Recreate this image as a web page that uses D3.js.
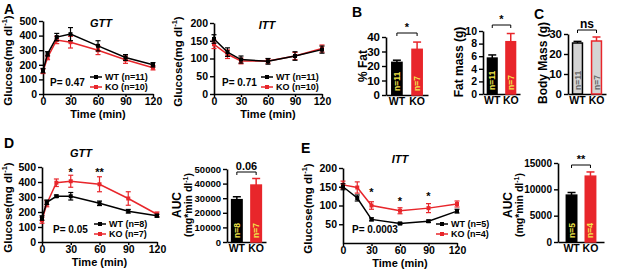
<!DOCTYPE html>
<html>
<head>
<meta charset="utf-8">
<script src="https://cdn.jsdelivr.net/npm/d3@7"></script>
<style>
  body { margin: 0; background: #fff; }
  svg { font-family: "Liberation Sans", Arial, sans-serif; font-weight: bold; }
</style>
</head>
<body>
<svg id="fig" width="617" height="271"></svg>
<script>
// data
const timeGTT = [0, 5, 15, 30, 60, 90, 120]
const timeITT = [0, 15, 30, 60, 90, 120]

const aGttWT = [160, 275, 390, 410, 330, 250, 200]
const aGttWTErr = [15, 15, 25, 45, 35, 20, 15]
const aGttKO = [155, 250, 370, 355, 300, 235, 180]
const aGttKOErr = [15, 15, 25, 40, 30, 25, 15]

const aIttWT = [155, 118, 97, 92, 107, 125]
const aIttWTErr = [12, 12, 10, 8, 12, 10]
const aIttKO = [140, 112, 93, 93, 107, 128]
const aIttKOErr = [12, 12, 8, 6, 10, 10]

const dGttWT = [160, 265, 305, 305, 258, 205, 175]
const dGttWTErr = [15, 15, 8, 25, 15, 12, 10]
const dGttKO = [145, 255, 395, 405, 385, 290, 185]
const dGttKOErr = [20, 20, 25, 40, 50, 45, 15]

const eIttWT = [150, 120, 63, 52, 58, 85]
const eIttWTErr = [8, 8, 4, 3, 3, 5]
const eIttKO = [155, 148, 100, 86, 93, 104]
const eIttKOErr = [10, 15, 10, 8, 12, 8]

const groups = ["WT", "KO"]
const fatPct = [22.5, 31.5], fatPctErr = [1.5, 5]
const fatMass = [5.7, 8.3], fatMassErr = [0.5, 1.3]
const bodyMass = [25.5, 26.5], bodyMassErr = [0.8, 2]
const dAuc = [29000, 39000], dAucErr = [2000, 4500]
const eAuc = [8900, 12500], eAucErr = [500, 800]

const RED = "#e8262b"
const YEL = "#f2e64a"
const svg = d3.select("#fig")
const fmt = d3.format("d")

function ylabel(x, y, size) {
    return svg.append("text")
        .attr("transform", "translate(" + x + "," + y + ") rotate(-90)")
        .attr("text-anchor", "middle")
        .attr("font-size", size || 12)
}

function glucoseLabel(x, y) {
    let t = ylabel(x, y, 11.5)
    t.append("tspan").text("Glucose(mg dl")
    t.append("tspan").attr("font-size", 7.5).attr("dy", -5).text("-1")
    t.append("tspan").attr("dy", 5).text(")")
}

function unitsLabel(x, y) {
    let t = ylabel(x, y, 10.5)
    t.append("tspan").text("(mg*min dl")
    t.append("tspan").attr("font-size", 7).attr("dy", -4).text("-1")
    t.append("tspan").attr("dy", 4).text(")")
}

function styleAxis(a) {
    a.selectAll(".domain").attr("stroke-width", 1.6)
    a.selectAll(".tick line").attr("stroke-width", 1.4)
    a.selectAll("text").attr("font-weight", "bold")
}

// line chart panel
function linePanel(o) {
    let x = d3.scaleLinear().domain([0, 120]).range([o.x0, o.x1])
    let y = d3.scaleLinear().domain(o.yDomain).range([o.yBot, o.yTop])

    let ya = svg.append("g").attr("transform", "translate(" + o.x0 + ",0)")
        .call(d3.axisLeft(y).tickValues(o.yTicks).tickFormat(fmt).tickSize(4).tickPadding(2).tickSizeOuter(0))
        .attr("font-size", 10.5)
    styleAxis(ya)
    let xa = svg.append("g").attr("transform", "translate(0," + o.yBot + ")")
        .call(d3.axisBottom(x).tickValues([0, 30, 60, 90, 120]).tickFormat(fmt).tickSize(3).tickPadding(1).tickSizeOuter(0))
        .attr("font-size", 10.5)
    styleAxis(xa)

    svg.append("text").attr("x", (o.x0 + o.x1) / 2).attr("y", o.yBot + 24)
        .attr("text-anchor", "middle").attr("font-size", 11).text("Time (min)")
    glucoseLabel(o.ylx, (o.yTop + o.yBot) / 2 + 3)
    svg.append("text").attr("x", o.titleX).attr("y", o.titleY)
        .attr("text-anchor", "middle").attr("font-size", 11).attr("font-style", "italic").text(o.title)

    let series = [
        { v: o.wt, e: o.wtErr, c: "#000" },
        { v: o.ko, e: o.koErr, c: RED }
    ]
    let line = d3.line().x((d, i) => x(o.t[i])).y(d => y(d))
    series.slice().reverse().forEach(s => {
        let g = svg.append("g")
        g.append("path").attr("d", line(s.v)).attr("fill", "none")
            .attr("stroke", s.c).attr("stroke-width", 1.5)
        s.v.forEach((d, i) => {
            let cx = x(o.t[i])
            g.append("line").attr("x1", cx).attr("x2", cx)
                .attr("y1", y(d - s.e[i])).attr("y2", y(d + s.e[i]))
                .attr("stroke", s.c).attr("stroke-width", 1.2)
            ;[d - s.e[i], d + s.e[i]].forEach(v => {
                g.append("line").attr("x1", cx - 2.5).attr("x2", cx + 2.5)
                    .attr("y1", y(v)).attr("y2", y(v)).attr("stroke", s.c).attr("stroke-width", 1.2)
            })
            g.append("rect").attr("x", cx - 2).attr("y", y(d) - 2)
                .attr("width", 4).attr("height", 4).attr("fill", s.c)
        })
    })

    // legend
    o.legend.forEach((lab, i) => {
        let ly = o.legY + i * 10
        let c = i == 0 ? "#000" : RED
        svg.append("line").attr("x1", o.legX).attr("x2", o.legX + 12)
            .attr("y1", ly - 3).attr("y2", ly - 3).attr("stroke", c).attr("stroke-width", 1.5)
        svg.append("rect").attr("x", o.legX + 4).attr("y", ly - 5).attr("width", 4).attr("height", 4).attr("fill", c)
        svg.append("text").attr("x", o.legX + 15).attr("y", ly).attr("font-size", 9).text(lab)
    })
    svg.append("text").attr("x", o.pX).attr("y", o.pY).attr("font-size", 10).text(o.p)

    if (o.stars) {
        o.stars.forEach(s => {
            svg.append("text").attr("x", x(s.t)).attr("y", s.y)
                .attr("text-anchor", "middle").attr("font-size", 11).text(s.s)
        })
    }
}

// bar chart panel
function barPanel(o) {
    let x = d3.scaleBand().domain(groups).range([o.x0, o.x1])
        .paddingInner(o.pi || 0.35).paddingOuter(o.po || 0.28)
    let y = d3.scaleLinear().domain(o.yDomain).range([o.yBot, o.yTop])
    let ya = svg.append("g").attr("transform", "translate(" + o.x0 + ",0)")
        .call(d3.axisLeft(y).tickValues(o.yTicks).tickFormat(fmt).tickSize(4).tickPadding(2).tickSizeOuter(0))
        .attr("font-size", o.tickSize || 11)
    styleAxis(ya)
    let xa = svg.append("g").attr("transform", "translate(0," + o.yBot + ")")
        .call(d3.axisBottom(x).tickSize(0).tickSizeOuter(0).tickPadding(3))
        .attr("font-size", 10.5)
    styleAxis(xa)

    groups.forEach((gname, i) => {
        let bx = x(gname), bw = x.bandwidth()
        let v = o.values[i], e = o.errs[i]
        let ec = o.errColor[i]
        svg.append("line").attr("x1", bx + bw / 2).attr("x2", bx + bw / 2)
            .attr("y1", y(v)).attr("y2", y(v + e)).attr("stroke", ec).attr("stroke-width", 1.5)
        svg.append("line").attr("x1", bx + bw / 2 - 4).attr("x2", bx + bw / 2 + 4)
            .attr("y1", y(v + e)).attr("y2", y(v + e)).attr("stroke", ec).attr("stroke-width", 1.5)
        svg.append("rect").attr("x", bx + 0.75).attr("y", y(v))
            .attr("width", bw - 1.5).attr("height", y(o.yDomain[0]) - y(v))
            .attr("fill", o.fills[i]).attr("stroke", o.strokes[i]).attr("stroke-width", 1.5)
        svg.append("text")
            .attr("transform", "translate(" + (bx + bw / 2 + 3) + "," + (o.yBot - 4) + ") rotate(-90)")
            .attr("font-size", 8.5).attr("fill", o.nColor).text(o.ns[i])
    })

    // significance bracket
    let c1 = x("WT") + x.bandwidth() / 2, c2 = x("KO") + x.bandwidth() / 2
    svg.append("path")
        .attr("d", "M" + c1 + "," + (o.brY + 3) + "V" + o.brY + "H" + c2 + "V" + (o.brY + 3))
        .attr("fill", "none").attr("stroke", "#000").attr("stroke-width", 1)
    svg.append("text").attr("x", (c1 + c2) / 2).attr("y", o.brY - 2)
        .attr("text-anchor", "middle").attr("font-size", o.sigSize || 11).text(o.sig)
}

function panelLetter(t, x, y) {
    svg.append("text").attr("x", x).attr("y", y).attr("font-size", 14).text(t)
}

// A
panelLetter("A", 4, 14)
linePanel({
    x0: 43, x1: 153, yTop: 21, yBot: 94, yDomain: [0, 500], yTicks: [0, 100, 200, 300, 400, 500],
    t: timeGTT, wt: aGttWT, wtErr: aGttWTErr, ko: aGttKO, koErr: aGttKOErr,
    ylx: 12, title: "GTT", titleX: 101, titleY: 27,
    legend: ["WT (n=11)", "KO (n=10)"], legX: 90, legY: 80, p: "P= 0.47", pX: 50, pY: 86
})
linePanel({
    x0: 214, x1: 322, yTop: 23, yBot: 94, yDomain: [0, 200], yTicks: [0, 50, 100, 150, 200],
    t: timeITT, wt: aIttWT, wtErr: aIttWTErr, ko: aIttKO, koErr: aIttKOErr,
    ylx: 182, title: "ITT", titleX: 267, titleY: 29,
    legend: ["WT (n=11)", "KO (n=10)"], legX: 261, legY: 80, p: "P= 0.71", pX: 222, pY: 86
})

// B
panelLetter("B", 352, 17)
ylabel(367, 66).text("% Fat")
barPanel({
    x0: 386, x1: 428, yTop: 37, yBot: 95, yDomain: [0, 40], yTicks: [0, 10, 20, 30, 40],
    values: fatPct, errs: fatPctErr, fills: ["#000", RED], strokes: ["#000", RED], errColor: ["#000", RED],
    ns: ["n=11", "n=7"], nColor: YEL, brY: 33, sig: "*", tickSize: 11.5, pi: 0.42, po: 0.25
})
ylabel(463, 62).text("Fat mass (g)")
barPanel({
    x0: 483, x1: 520, yTop: 31, yBot: 94, yDomain: [0, 10], yTicks: [0, 2, 4, 6, 8, 10],
    values: fatMass, errs: fatMassErr, fills: ["#000", RED], strokes: ["#000", RED], errColor: ["#000", RED],
    ns: ["n=11", "n=7"], nColor: YEL, brY: 25, sig: "*", tickSize: 10.5, pi: 0.4, po: 0.2
})

// C
panelLetter("C", 534, 19)
ylabel(547, 63).text("Body Mass (g)")
barPanel({
    x0: 568, x1: 606, yTop: 34, yBot: 94, yDomain: [0, 30], yTicks: [0, 10, 20, 30],
    values: bodyMass, errs: bodyMassErr, fills: ["#d4d4d4", "#d4d4d4"], strokes: ["#000", RED], errColor: ["#000", RED],
    ns: ["n=11", "n=7"], nColor: "#666", brY: 30, sig: "ns", sigSize: 12, tickSize: 11.5, pi: 0.4, po: 0.2
})

// D
panelLetter("D", 4, 148)
linePanel({
    x0: 42, x1: 157, yTop: 167, yBot: 242, yDomain: [0, 500], yTicks: [0, 100, 200, 300, 400, 500],
    t: timeGTT, wt: dGttWT, wtErr: dGttWTErr, ko: dGttKO, koErr: dGttKOErr,
    ylx: 12, title: "GTT", titleX: 81, titleY: 157,
    legend: ["WT (n=8)", "KO (n=7)"], legX: 94, legY: 227, p: "P= 0.05", pX: 53, pY: 233,
    stars: [{ t: 30, s: "*", y: 176 }, { t: 60, s: "**", y: 176 }]
})
ylabel(181, 205, 12).text("AUC")
unitsLabel(192, 205)
barPanel({
    x0: 227, x1: 266, yTop: 169, yBot: 242, yDomain: [0, 50000], yTicks: [0, 10000, 20000, 30000, 40000, 50000],
    values: dAuc, errs: dAucErr, fills: ["#000", RED], strokes: ["#000", RED], errColor: ["#000", RED],
    ns: ["n=8", "n=7"], nColor: YEL, brY: 172, sig: "0.06", tickSize: 9.5, pi: 0.38, po: 0.2
})

// E
panelLetter("E", 301, 153)
linePanel({
    x0: 343, x1: 457, yTop: 168, yBot: 243, yDomain: [0, 200], yTicks: [50, 100, 150, 200],
    t: timeITT, wt: eIttWT, wtErr: eIttWTErr, ko: eIttKO, koErr: eIttKOErr,
    ylx: 312, title: "ITT", titleX: 400, titleY: 163,
    legend: ["WT (n=5)", "KO (n=4)"], legX: 436, legY: 227, p: "P= 0.0003", pX: 352, pY: 233,
    stars: [{ t: 30, s: "*", y: 196 }, { t: 60, s: "*", y: 205 }, { t: 90, s: "*", y: 200 }]
})
ylabel(512, 205, 12).text("AUC")
unitsLabel(523, 205)
barPanel({
    x0: 558, x1: 604, yTop: 163, yBot: 242, yDomain: [0, 15000], yTicks: [0, 5000, 10000, 15000],
    values: eAuc, errs: eAucErr, fills: ["#000", RED], strokes: ["#000", RED], errColor: ["#000", RED],
    ns: ["n=5", "n=4"], nColor: YEL, brY: 165, sig: "**", tickSize: 10, pi: 0.37, po: 0.4
})
</script>
</body>
</html>
